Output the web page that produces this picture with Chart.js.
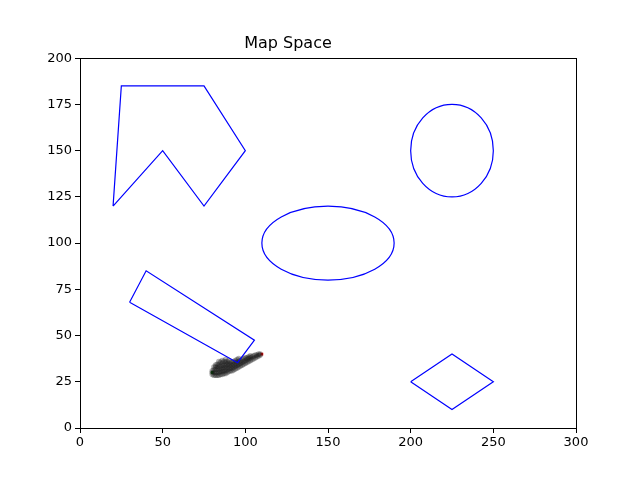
<!DOCTYPE html>
<html>
<head>
<meta charset="utf-8">
<script src="https://cdn.jsdelivr.net/npm/chart.js@4"></script>
<style>
  body { margin: 0; background: #fff; }
  #wrap { width: 640px; height: 480px; }
</style>
</head>
<body>
<div id="wrap"><canvas id="map" width="640" height="480"></canvas></div>
<script>
// Obstacles
const polygonX = [20, 25, 75, 100, 75, 50, 20];
const polygonY = [120, 185, 185, 150, 120, 150, 120];
const rectX = [30, 40, 105.5, 95.3, 30];
const rectY = [68, 85, 47.5, 35.3, 68];
const diamondX = [200, 225, 250, 225, 200];
const diamondY = [25, 40, 25, 10, 25];
const ellipseCX = [225, 150];
const ellipseCY = [150, 100];
const ellipseRX = [25, 40];
const ellipseRY = [25, 20];

// Particle cloud
const particleX = [
  80, 80, 80,
  81, 81, 81, 81,
  82, 82, 82, 82, 82,
  83, 83, 83, 83, 83,
  84, 84, 84, 84, 84, 84,
  85, 85, 85, 85, 85,
  86, 86, 86, 86, 86, 86,
  87, 87, 87, 87, 87,
  88, 88, 88, 88, 88, 88,
  89, 89, 89, 89, 89,
  90, 90, 90, 90, 90,
  91, 91, 91, 91,
  92, 92, 92, 92,
  93, 93, 93, 93,
  94, 94, 94, 94,
  95, 95, 95, 95,
  96, 96, 96, 96,
  97, 97, 97,
  98, 98, 98,
  99, 99, 99,
  100, 100, 100,
  101, 101, 101,
  102, 102, 102,
  103, 103, 103,
  104, 104,
  105, 105,
  106, 106,
  107, 107,
  108, 108,
  109, 109
];
const particleY = [
  29, 30, 31,
  28.5, 30, 31.5, 33,
  28.5, 30, 31.5, 33, 34,
  28.5, 30, 31.5, 33, 34.5,
  28.5, 30, 31.5, 33, 34.5, 36,
  29, 30.5, 32, 33.5, 35.5,
  29, 30.5, 32, 33.5, 35, 36.5,
  29.5, 31, 32.5, 34, 36,
  29.5, 31, 32.5, 34, 35.5, 37,
  30, 31.5, 33, 34.5, 36,
  30.5, 32, 33.5, 35, 36.5,
  31, 32.5, 34, 35.5,
  31, 32.5, 34, 35.5,
  31.5, 33, 34.5, 36,
  32, 33.5, 35, 36.5,
  32.5, 34, 35.5, 37,
  33, 34.5, 36, 37.5,
  33.5, 35, 36.5,
  34, 35.5, 37,
  34.5, 36, 37.5,
  35, 36.5, 38,
  35.5, 37, 38,
  36, 37.5, 38.5,
  36.5, 38, 39,
  37, 38.5,
  37.5, 39,
  38, 39.5,
  38.5, 39.5,
  39, 40,
  39.5, 40
];
const startPoint = [80, 30];
const endPoint = [110, 40];

const xTicks = [0, 50, 100, 150, 200, 250, 300];
const yTicks = [0, 25, 50, 75, 100, 125, 150, 175, 200];

function toPoints(xs, ys) {
  return xs.map((x, i) => ({ x: x, y: ys[i] }));
}

function outline(xs, ys) {
  return {
    data: toPoints(xs, ys),
    showLine: true,
    borderColor: '#0000ff',
    borderWidth: 1.2,
    pointRadius: 0,
    fill: false
  };
}

// ellipses + axes frame
const extrasPlugin = {
  id: 'extras',
  beforeDatasetsDraw(chart) {
    const ctx = chart.ctx;
    const xs = chart.scales.x, ys = chart.scales.y;
    ctx.save();
    ctx.strokeStyle = '#0000ff';
    ctx.lineWidth = 1.2;
    ellipseCX.forEach((cx, i) => {
      const px = xs.getPixelForValue(cx);
      const py = ys.getPixelForValue(ellipseCY[i]);
      const rx = Math.abs(xs.getPixelForValue(cx + ellipseRX[i]) - px);
      const ry = Math.abs(ys.getPixelForValue(ellipseCY[i] + ellipseRY[i]) - py);
      ctx.beginPath();
      ctx.ellipse(px, py, rx, ry, 0, 0, Math.PI * 2);
      ctx.stroke();
    });
    ctx.restore();
  },
  afterDraw(chart) {
    const a = chart.chartArea;
    const ctx = chart.ctx;
    ctx.save();
    ctx.strokeStyle = '#000';
    ctx.lineWidth = 1;
    ctx.strokeRect(Math.round(a.left) + 0.5, Math.round(a.top) + 0.5,
      Math.round(a.right - a.left), Math.round(a.bottom - a.top));
    ctx.restore();
  }
};

new Chart(document.getElementById('map'), {
  type: 'scatter',
  data: {
    datasets: [
      outline(polygonX, polygonY),
      outline(rectX, rectY),
      outline(diamondX, diamondY),
      {
        data: toPoints(particleX, particleY),
        pointRadius: 2.8,
        pointBorderWidth: 0,
        backgroundColor: 'rgba(20,20,20,0.33)',
        borderColor: 'rgba(0,0,0,0)'
      },
      {
        data: [{ x: startPoint[0], y: startPoint[1] }],
        pointRadius: 2,
        pointStyle: 'rect',
        backgroundColor: '#00a000',
        borderWidth: 0
      },
      {
        data: [{ x: endPoint[0], y: endPoint[1] }],
        pointRadius: 2,
        pointStyle: 'rect',
        backgroundColor: '#ff0000',
        borderWidth: 0
      }
    ]
  },
  options: {
    responsive: false,
    animation: false,
    devicePixelRatio: 1,
    layout: { padding: { left: 0, right: 64, top: 0, bottom: 0 } },
    plugins: {
      legend: { display: false },
      tooltip: { enabled: false },
      title: {
        display: true,
        text: 'Map Space',
        color: '#000',
        font: { family: 'DejaVu Sans', size: 16, weight: 'normal' },
        padding: { top: 34, bottom: 5 }
      }
    },
    scales: {
      x: {
        type: 'linear',
        min: 0,
        max: 300,
        afterBuildTicks(scale) { scale.ticks = xTicks.map(v => ({ value: v })); },
        afterFit(scale) { scale.height = 52; },
        grid: { drawOnChartArea: false, drawTicks: true, tickLength: 5, color: '#000' },
        border: { display: true, color: '#000' },
        ticks: { color: '#000', padding: 2, maxRotation: 0, font: { family: 'DejaVu Sans', size: 13 } }
      },
      y: {
        type: 'linear',
        min: 0,
        max: 200,
        afterBuildTicks(scale) { scale.ticks = yTicks.map(v => ({ value: v })); },
        afterFit(scale) { scale.width = 80; },
        grid: { drawOnChartArea: false, drawTicks: true, tickLength: 5, color: '#000' },
        border: { display: true, color: '#000' },
        ticks: { color: '#000', padding: 3, font: { family: 'DejaVu Sans', size: 13 } }
      }
    }
  },
  plugins: [extrasPlugin]
});
</script>
</body>
</html>
